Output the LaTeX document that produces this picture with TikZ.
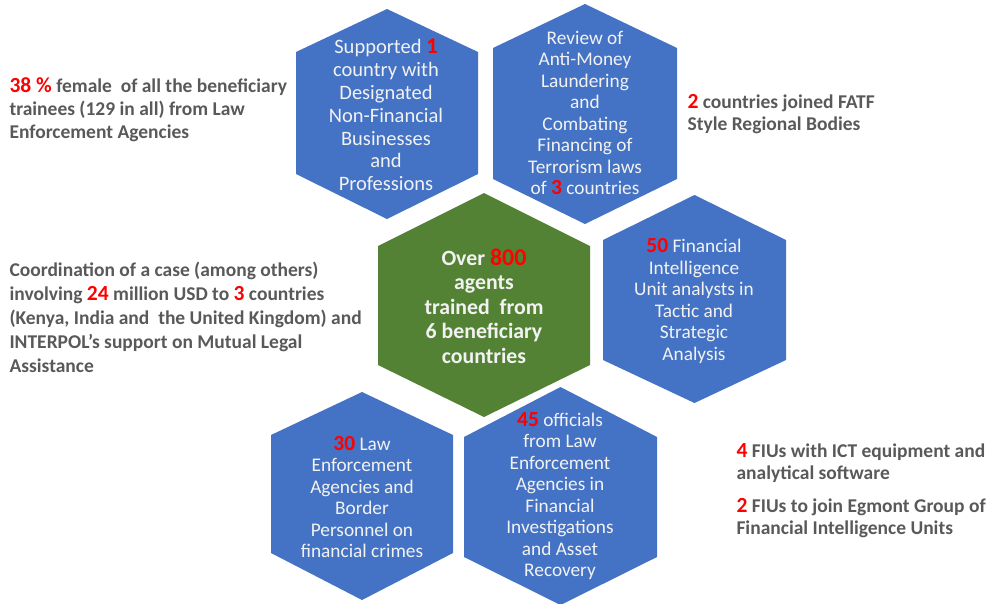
\documentclass[tikz,border=0pt]{standalone}
\usepackage{fontspec}
\setmainfont{Carlito}
\definecolor{hexblue}{HTML}{4472C4}
\definecolor{hexgreen}{HTML}{548235}
\definecolor{txtgray}{HTML}{595959}
\definecolor{numred}{HTML}{FF0000}
\newcommand{\num}[2][21.5]{{\color{numred}\bfseries\fontsize{#1}{10}\selectfont #2}}
\tikzset{
  hextext/.style={align=center, text=white!95!black, font=\fontsize{19.3}{21.5}\selectfont},
  sidetext/.style={align=left, anchor=west, text=txtgray, font=\bfseries\fontsize{19.5}{23}\selectfont}
}
\begin{document}
\begin{tikzpicture}[x=1pt, y=-1pt]
    \useasboundingbox (0,0) rectangle (990,603);
    \foreach \cx/\t/\a/\b/\bt/\w/\col in {387/9/52/174/219/91/hexblue,
        585/4/48/179/224/92/hexblue, 484/193/246/365/417/106/hexgreen,
        694.5/195/240/360/403/91.5/hexblue, 362/392/435/553/600/91/hexblue,
        560.5/387/437/557/605/96.5/hexblue}
        \fill[fill=\col] (\cx,\t) -- (\cx+\w,\a) -- (\cx+\w,\b) -- (\cx,\bt) 
        -- (\cx-\w,\b) -- (\cx-\w,\a) -- cycle;
    \node[hextext, font=\fontsize{20.5}{22.8}\selectfont] (sup) at (386,115) 
        {Supported \num[22.5]{1}\\country with\\Designated\\Non-Financial\\Businesses\\and\\Professions};
    \node[hextext] (rev) at (585,113) 
        {Review of\\Anti-Money\\Laundering\\and\\Combating\\Financing of\\Terrorism laws\\of \num{3} countries};
    \node[hextext, font=\bfseries\fontsize{21.8}{24.5}\selectfont] (ctr) at (484,306) 
        {Over \num[24]{800}\\agents\\trained\ \ from\\6 beneficiary\\countries};
    \node[hextext] (fiu) at (694,301) 
        {\num{50} Financial\\Intelligence\\Unit analysts in\\Tactic and\\Strategic\\Analysis};
    \node[hextext] (law) at (362,497) 
        {\num{30} Law\\Enforcement\\Agencies and\\Border\\Personnel on\\financial crimes};
    \node[hextext] (off) at (560,496) 
        {\num{45} officials\\from Law\\Enforcement\\Agencies in\\Financial\\Investigations\\and Asset\\Recovery};
    \node[sidetext] (fem) at (6,110) 
        {\num{38 \%} female\ \ of all the beneficiary\\trainees (129 in all) from Law\\Enforcement Agencies};
    \node[sidetext, font=\bfseries\fontsize{19.5}{24}\selectfont] (coord) at (6,317) 
        {Coordination of a case (among others)\\involving \num{24} million USD to \num{3} countries\\(Kenya, India and\ \ the United Kingdom) and\\INTERPOL’s support on Mutual Legal\\Assistance};
    \node[sidetext, font=\bfseries\fontsize{19.5}{22}\selectfont] (fatf) at (684,114) 
        {\num{2} countries joined FATF\\Style Regional Bodies};
    \node[sidetext, font=\bfseries\fontsize{19.5}{22}\selectfont] (ict) at (733,463) 
        {\num{4} FIUs with ICT equipment and\\analytical software};
    \node[sidetext, font=\bfseries\fontsize{19.5}{22}\selectfont] (egm) at (733,518) 
        {\num{2} FIUs to join Egmont Group of\\Financial Intelligence Units};
\end{tikzpicture}
\end{document}
